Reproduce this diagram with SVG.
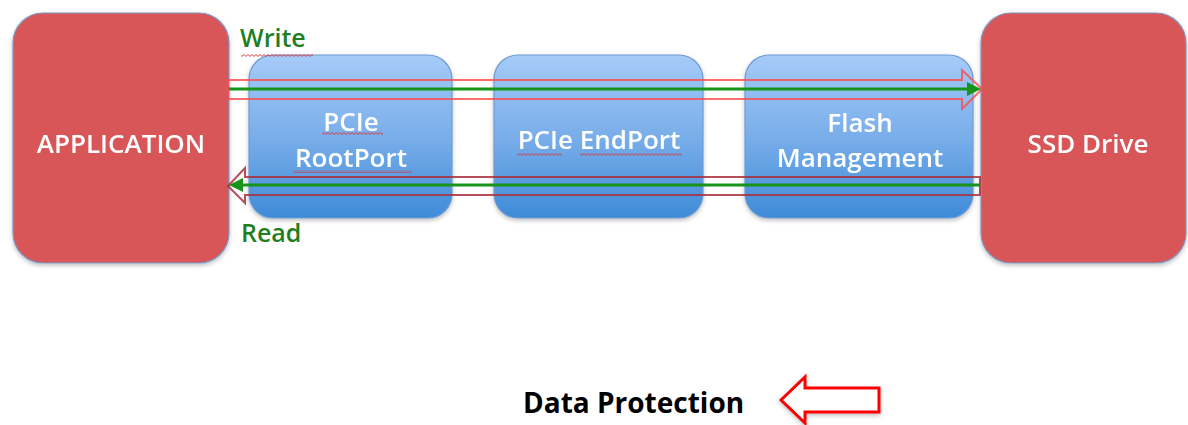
<svg xmlns="http://www.w3.org/2000/svg" width="1188" height="425" viewBox="0 0 1188 425">
<style>
  .red { fill: #d85758; stroke: #7f97c4; stroke-width: 1.2; }
  .blue { fill: url(#blueGrad); stroke: #6f9bd2; stroke-width: 1.2; }
  .lbl { font-family: "Open Sans", "Liberation Sans", sans-serif; font-size: 26px; font-weight: 600; fill: #ffffff; text-anchor: middle; }
  .flow { font-family: "Open Sans", "Liberation Sans", sans-serif; font-size: 25px; font-weight: 600; fill: #1f7f1f; }
  .sq { fill: url(#squiggle); }
</style>
<defs>
  <linearGradient id="blueGrad" x1="0" y1="0" x2="0" y2="1">
    <stop offset="0" stop-color="#a6cbf8"/>
    <stop offset="0.5" stop-color="#79aeea"/>
    <stop offset="1" stop-color="#3f8bd8"/>
  </linearGradient>
  <filter id="shadow" x="-10%" y="-10%" width="120%" height="120%">
    <feDropShadow dx="0" dy="2" stdDeviation="2" flood-color="#000000" flood-opacity="0.25"/>
  </filter>
  <pattern id="squiggle" x="0" y="0" width="4" height="3" patternUnits="userSpaceOnUse">
    <path d="M0 0.6 L2 2.4 L4 0.6" fill="none" stroke="#e03030" stroke-width="0.9"/>
  </pattern>
</defs>
<rect width="1188" height="425" fill="#ffffff"/>

<g id="node-application" filter="url(#shadow)">
  <rect class="red" x="13" y="13" width="216" height="250" rx="30"/>
  <text class="lbl" x="121" y="153">APPLICATION</text>
</g>
<g id="node-rootport" filter="url(#shadow)">
  <rect class="blue" x="249" y="55" width="203" height="163" rx="24"/>
  <text class="lbl" x="351" y="131">PCIe</text>
  <text class="lbl" x="351" y="167">RootPort</text>
</g>
<g id="node-endport" filter="url(#shadow)">
  <rect class="blue" x="494" y="55" width="209" height="163" rx="24"/>
  <text class="lbl" x="599" y="149">PCIe EndPort</text>
</g>
<g id="node-flash" filter="url(#shadow)">
  <rect class="blue" x="745" y="55" width="228" height="163" rx="24"/>
  <text class="lbl" x="860" y="132">Flash</text>
  <text class="lbl" x="860" y="167">Management</text>
</g>
<g id="node-ssd" filter="url(#shadow)">
  <rect class="red" x="981" y="13" width="205" height="250" rx="30"/>
  <text class="lbl" x="1088" y="153">SSD Drive</text>
</g>

<g id="squiggles">
  <rect class="sq" x="241" y="54" width="72" height="3"/>
  <rect class="sq" x="322" y="132" width="61" height="3"/>
  <rect class="sq" x="293" y="170" width="119" height="3"/>
  <rect class="sq" x="517" y="153" width="45" height="3"/>
  <rect class="sq" x="580" y="153" width="102" height="3"/>
</g>

<g id="connectors">
  <!-- Write -->
  <path d="M228 80 L962 80 L962 70 L982 89 L962 109 L962 99 L228 99 Z" fill="none" stroke="#ff4a4a" stroke-opacity="0.8" stroke-width="2"/>
  <line x1="229" y1="89" x2="970" y2="89" stroke="#17941a" stroke-width="3"/>
  <polygon points="981,89 967,82 967,96" fill="#17941a"/>
  <!-- Read -->
  <path d="M980 177 L245 177 L245 168 L228 186 L245 203 L245 195 L980 195 Z" fill="none" stroke="#a8303c" stroke-opacity="0.85" stroke-width="2"/>
  <line x1="980" y1="185" x2="240" y2="185" stroke="#17941a" stroke-width="3"/>
  <polygon points="229,185 243,178 243,192" fill="#17941a"/>
  <!-- Data protection arrow -->
  <path d="M781 400 L805 377 L805 388 L879 388 L879 412 L805 412 L805 423 Z" fill="#ffffff" stroke="#ff0000" stroke-width="3" stroke-linejoin="miter" filter="url(#shadow)"/>
</g>

<g id="labels">
  <text class="flow" x="240" y="47">Write</text>
  <text class="flow" x="241" y="242">Read</text>
  <text x="523" y="413" font-family="'Open Sans', 'Liberation Sans', sans-serif" font-size="28" font-weight="bold" fill="#000000">Data Protection</text>
</g>
</svg>
